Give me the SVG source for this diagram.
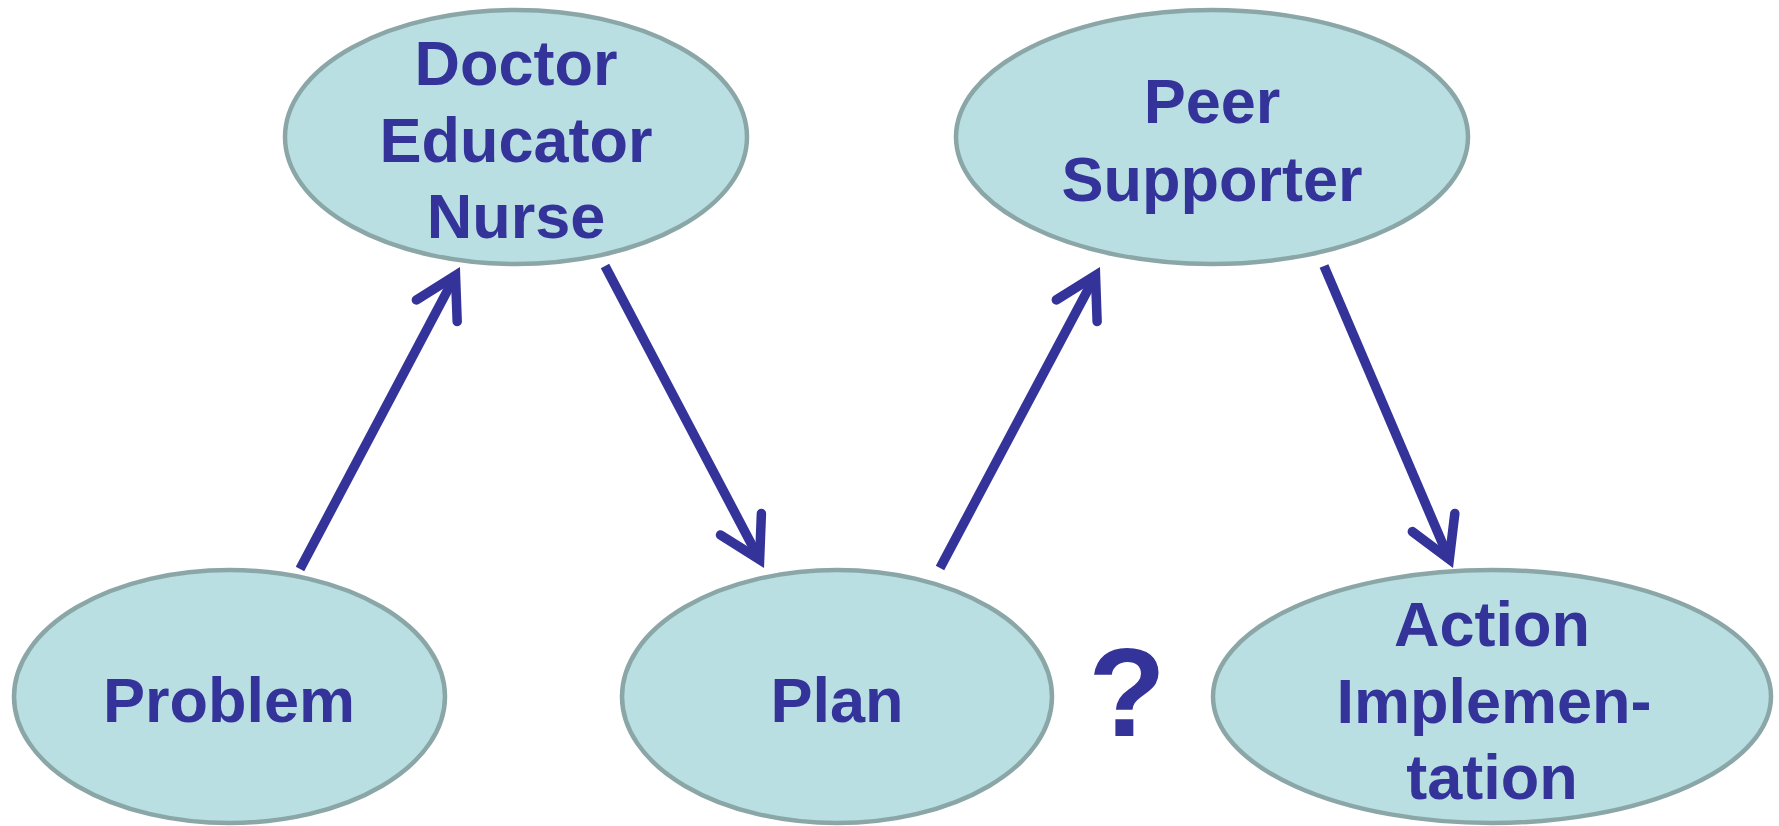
<svg xmlns="http://www.w3.org/2000/svg" width="1779" height="826" viewBox="0 0 1779 826">
  <style>
    .node { fill: #B9DFE3; stroke: #8BA6A7; stroke-width: 4.5; }
    .label { font-family: "Liberation Sans", Arial, sans-serif; font-weight: bold; font-size: 63px; fill: #333399; text-anchor: middle; }
    .edge { fill: none; stroke: #333399; stroke-width: 9.5; stroke-linecap: butt; }
    .q { font-family: "Liberation Sans", Arial, sans-serif; font-weight: bold; font-size: 127px; fill: #333399; text-anchor: middle; }
  </style>
  <defs>
    <!-- open chevron head, sharp point, rounded barb ends -->
    <marker id="head" markerUnits="userSpaceOnUse" orient="auto" refX="0" refY="0" markerWidth="80" markerHeight="80" viewBox="-60 -40 80 80" overflow="visible">
      <path d="M -40 -23.1 L 0 0 L -40 23.1" fill="none" stroke="#333399" stroke-width="9.5" stroke-linecap="round" stroke-linejoin="miter" stroke-miterlimit="10"/>
    </marker>
  </defs>
  <rect width="1779" height="826" fill="#FFFFFF"/>

  <g id="connectors">
    <line class="edge" x1="300" y1="569" x2="455.5" y2="275.4" marker-end="url(#head)"/>
    <line class="edge" x1="605" y1="266" x2="759.6" y2="559.6" marker-end="url(#head)"/>
    <line class="edge" x1="940" y1="568" x2="1095.5" y2="275.4" marker-end="url(#head)"/>
    <line class="edge" x1="1324" y1="266" x2="1449.3" y2="559.3" marker-end="url(#head)"/>
  </g>

  <g id="node-care-team">
    <ellipse class="node" cx="516" cy="137" rx="231" ry="127"/>
    <text class="label" x="516" y="85">Doctor</text>
    <text class="label" x="516" y="162">Educator</text>
    <text class="label" x="516" y="238">Nurse</text>
  </g>

  <g id="node-peer">
    <ellipse class="node" cx="1212" cy="137" rx="256" ry="127"/>
    <text class="label" x="1212" y="123">Peer</text>
    <text class="label" x="1212" y="201">Supporter</text>
  </g>

  <g id="node-problem">
    <ellipse class="node" cx="229.5" cy="696.5" rx="215.5" ry="126.5"/>
    <text class="label" x="229" y="722">Problem</text>
  </g>

  <g id="node-plan">
    <ellipse class="node" cx="837" cy="696.5" rx="215" ry="126.5"/>
    <text class="label" x="837" y="722">Plan</text>
  </g>

  <g id="node-action">
    <ellipse class="node" cx="1492" cy="696.5" rx="279" ry="126.5"/>
    <text class="label" x="1492" y="646">Action</text>
    <text class="label" x="1494" y="722.5">Implemen-</text>
    <text class="label" x="1492" y="799">tation</text>
  </g>

  <text class="q" x="1127" y="736">?</text>
</svg>
